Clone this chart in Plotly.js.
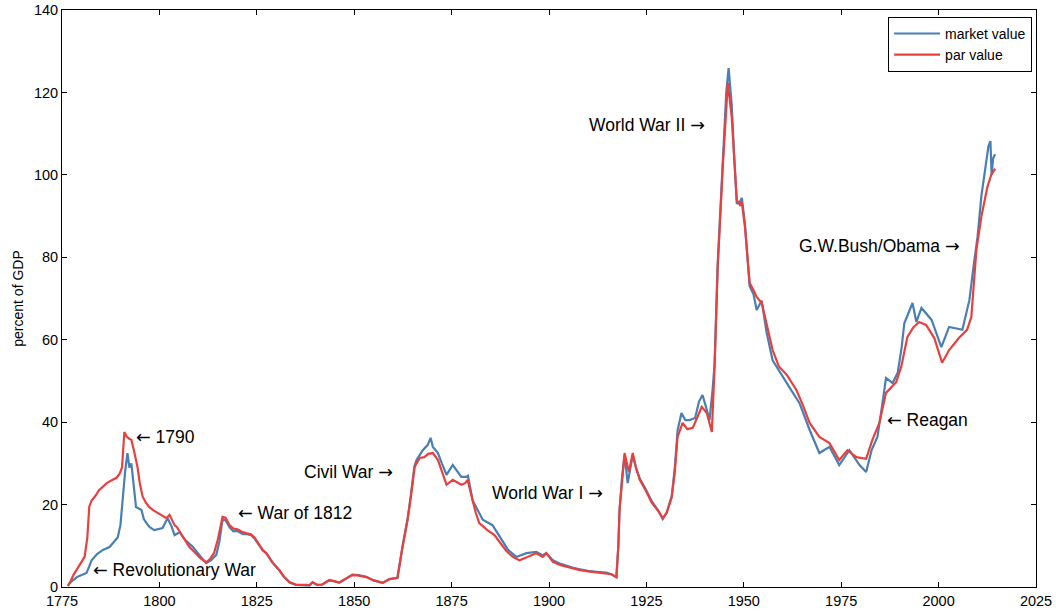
<!DOCTYPE html>
<html>
<head>
<meta charset="utf-8">
<script src="https://cdn.plot.ly/plotly-3.0.1.min.js"></script>
<style>html,body{margin:0;padding:0;background:#fff;}#chart{width:1056px;height:611px;}</style>
</head>
<body>
<div id="chart"></div>
<script>
// Par value (percent of GDP)
const parYears = [1776.5,1777,1778,1779,1780,1780.8,1781.5,1782,1782.6,1783.5,1784.5,1785.4,1786.5,1788,1789,1789.8,1790.4,1791,1791.6,1792.2,1792.8,1793.5,1794.4,1795,1795.7,1796.5,1797.3,1798.3,1799.5,1800.5,1801.8,1802.6,1803.2,1803.9,1804.5,1805.5,1806.5,1807.7,1809,1810.5,1812,1813,1814,1815,1816.2,1817,1818,1819,1820,1821.4,1822.5,1823.5,1824.4,1825.5,1826.5,1827.5,1829,1830.8,1832,1833.4,1835,1837.7,1838.5,1839.3,1840.5,1841.8,1843.6,1844.5,1846.2,1847.5,1849.5,1851,1853.1,1855,1857.3,1859,1861.1,1862.4,1863.7,1864.5,1865.5,1866.8,1868,1869,1870.2,1871.5,1872.5,1873.7,1875.3,1876.5,1877.5,1878.5,1879.1,1880.4,1881.2,1882.1,1884.2,1886,1887.8,1889,1890.7,1892.4,1894.5,1896.7,1898.4,1899.3,1901,1903,1904.5,1906,1907.9,1910,1912.2,1914.7,1916,1917.3,1917.8,1918.1,1918.7,1919.4,1920,1920.5,1921.5,1922.3,1923.3,1924.8,1926.4,1928,1929.2,1930.2,1931.5,1932.3,1933,1934.3,1935.5,1936.9,1938,1939.2,1940.5,1941.8,1942.5,1943.3,1944.6,1945.9,1946.9,1947.5,1948.2,1949,1949.5,1950.3,1951.5,1952.5,1953.3,1954.6,1955.8,1957.4,1959,1961,1963.5,1965,1966.9,1969.4,1972,1974.5,1976.6,1978.9,1981.4,1983,1984.8,1986.5,1989.1,1990.4,1992,1993.5,1995,1996.8,1998.9,2000.9,2002.7,2005.2,2007.3,2008.4,2009.7,2011,2012.5,2013.5,2014.5];
const parValue = [0.3,1,3,4.5,6,7.3,12,19.5,21,22,23.5,24.3,25.2,26,26.5,27.5,29,37.6,36.5,36,35.7,33,29,25,21.9,20.5,19.5,18.7,18,17.5,16.7,17.5,16.5,15,14.5,13,11.5,9.7,8.5,7,6,6.8,8.2,11.5,17,16.8,15,14.2,14,13.3,13,12.8,12,10.5,9,8.2,6,4.1,2.5,1.2,0.6,0.5,0.4,1.2,0.5,0.6,1.7,1.5,1.1,1.8,2.9,2.8,2.4,1.6,1,1.9,2.2,9.7,16.3,21.5,29.1,31.3,31.5,32.3,32.5,30.8,28,24.8,26,25.3,24.8,25.2,26,21,18,15.5,13.8,12.6,10.2,8.8,7.3,6.5,7.3,8.2,7.3,8.2,6.1,5.3,4.9,4.5,4.1,3.8,3.6,3.4,3.1,2.4,10,18.7,26,32.5,30,27.9,32.5,29,26,23.5,20.4,18.5,16.7,18,21.8,28,36.4,39.8,38.3,38.6,41,43.7,42.2,37.6,53.4,77.6,101.9,122.3,114,104,93.9,92.7,93.4,87.4,73.8,72,70.4,68.9,64,57.5,53.5,51.5,47.8,44.5,39.8,36.4,34.9,30.8,33.2,31.5,31.1,35.7,39.8,47.1,49.7,53.4,60.7,63,64.3,63.6,60.4,54.4,57.5,60.4,62.4,65.5,81.8,90,97,100,101.5];

// Market value (percent of GDP)
const mktYears = [1776.5,1777,1779,1781.3,1782,1782.6,1784,1785.5,1787.2,1788.5,1789.3,1790,1790.5,1791.2,1791.8,1792.3,1792.8,1793.4,1794,1795.4,1796,1796.7,1797.5,1798.7,1799.7,1800.8,1802.1,1803,1803.9,1805.2,1806.5,1808.6,1810.5,1812,1813.3,1814.6,1815.4,1816.2,1817,1818,1819,1820,1821.4,1822.5,1823.5,1824.4,1825.5,1826.5,1827.5,1829,1830.8,1832,1833.4,1835,1837.7,1838.5,1839.3,1840.5,1841.8,1843.6,1844.5,1846.2,1847.5,1849.5,1851,1853.1,1855,1857.3,1859,1861.1,1862.4,1863.7,1864.5,1865.5,1866,1867.6,1868.9,1869.6,1870.2,1871.5,1872.5,1873.7,1875.3,1876.5,1877.5,1878.8,1879.2,1880.4,1883,1885.5,1887.8,1889.5,1891.6,1894.2,1896.7,1898.4,1899.3,1901,1903,1904.5,1906,1907.9,1910,1912.2,1914.7,1916,1917.3,1917.8,1918.1,1918.7,1919.4,1920.2,1921.5,1922.3,1923.3,1924.8,1926.4,1928,1929.2,1930.2,1931.5,1932.3,1933,1934,1935,1936.1,1937.5,1938.5,1939.4,1940.2,1941.2,1942,1942.5,1943.3,1944.6,1945.5,1946.1,1946.9,1947.5,1948.2,1949,1949.5,1950.3,1951.5,1952.5,1953.3,1954.6,1955.8,1957.4,1959.7,1962,1964.3,1966.9,1969.4,1972,1974.5,1977.1,1979.7,1981.4,1982.8,1984.3,1985.5,1986.5,1988.2,1989.5,1990.5,1991.2,1993.3,1994.3,1995.6,1998.2,2000.7,2002.7,2006.1,2007.9,2009,2010,2011,2012,2012.8,2013.3,2013.6,2014,2014.5];
const mktValue = [0.3,1,2.5,3.4,5,6.5,8,9,9.7,11,12,15,21,28,32.5,29,30,24,19.4,18.7,16.5,15.5,14.5,13.8,14,14.3,16.7,15,12.6,13.3,11.5,9.7,7.5,5.8,6.5,7.8,11,16.3,16.2,14.5,13.5,13.6,12.8,12.8,12.6,11.8,10.3,8.9,8.1,5.9,4,2.4,1.1,0.5,0.4,0.4,1.1,0.5,0.6,1.6,1.5,1.1,1.8,3,2.9,2.5,1.6,1,1.9,2.3,9.8,16.5,22,29.5,30.8,33.2,34.5,36.2,34,32.5,30,27.2,29.6,28,26.7,26.7,27,21,16.3,15,11.4,9,7.3,8.2,8.5,7.7,8.2,6.5,5.6,5.1,4.7,4.3,3.9,3.7,3.5,3.1,2.4,10,18.5,26,32,25.2,32,29,26.3,23.8,20.8,18.6,16.5,18,22,29,38,42.2,40.5,40.5,41,45,46.6,44,40.5,48,54,78.5,104,120,125.9,117,105,93,93.5,94.4,88,73,71,67.2,69.5,62,55,51.4,48,44.6,38.1,32.5,34,29.6,33.2,29.6,27.9,33.2,36.4,44,50.7,49.5,52,58,64,68.9,64.3,67.7,64.8,58.2,63.1,62.4,69.6,78,85,95,102,107,108.2,100,104,105];

const ARW_R = '<span style="font-family:DejaVu Sans">\u2192</span>';
const ARW_L = '<span style="font-family:DejaVu Sans">\u2190</span>';
const labels = [
  {text: ARW_L + ' Revolutionary War', x: 1782.4, y: 4.1, anchor: 'left'},
  {text: ARW_L + ' 1790', x: 1793.4, y: 36.4, anchor: 'left'},
  {text: ARW_L + ' War of 1812', x: 1819.6, y: 18, anchor: 'left'},
  {text: 'Civil War ' + ARW_R, x: 1860.5, y: 27.9, anchor: 'right'},
  {text: 'World War I ' + ARW_R, x: 1914.4, y: 22.8, anchor: 'right'},
  {text: 'World War II ' + ARW_R, x: 1940.6, y: 112.1, anchor: 'right'},
  {text: 'G.W.Bush/Obama ' + ARW_R, x: 2006, y: 82.7, anchor: 'right'},
  {text: ARW_L + ' Reagan', x: 1986.2, y: 40.5, anchor: 'left'}
];

const FONT = 'Liberation Sans, Arial, sans-serif';

const traces = [
  {x: mktYears, y: mktValue, type: 'scatter', mode: 'lines', name: 'market value',
   line: {color: '#4a7fb3', width: 2.2}},
  {x: parYears, y: parValue, type: 'scatter', mode: 'lines', name: 'par value',
   line: {color: '#e8403f', width: 2.2}}
];

const axisCommon = {
  showline: true, linecolor: '#000', linewidth: 1, mirror: 'ticks',
  ticks: 'inside', ticklen: 5, tickcolor: '#000', showgrid: false, zeroline: false,
  tickfont: {family: FONT, size: 14.5, color: '#000'}
};

const layout = {
  width: 1056, height: 611,
  margin: {l: 62, r: 20, t: 10, b: 24},
  paper_bgcolor: '#fff', plot_bgcolor: '#fff',
  showlegend: true,
  legend: {x: 0.996, y: 0.988, xanchor: 'right', yanchor: 'top',
    bordercolor: '#000', borderwidth: 1, bgcolor: '#fff', itemwidth: 46,
    font: {family: FONT, size: 14, color: '#000'}, tracegroupgap: 0},
  xaxis: Object.assign({}, axisCommon, {range: [1775, 2025], tick0: 1775, dtick: 25, ticklabelstandoff: 1}),
  yaxis: Object.assign({}, axisCommon, {range: [0, 140], dtick: 20,
    title: {text: 'percent of GDP', font: {family: FONT, size: 14, color: '#000'}, standoff: 6}}),
  annotations: labels.map(a => ({
    text: a.text, x: a.x, y: a.y, xref: 'x', yref: 'y', showarrow: false,
    xanchor: a.anchor, yanchor: 'middle',
    font: {family: FONT, size: 17.5, color: '#000'}
  }))
};

Plotly.newPlot('chart', traces, layout, {displayModeBar: false, staticPlot: true}).then(function () {
  document.querySelectorAll('.legend .legendlines path').forEach(function (p) {
    p.setAttribute('d', 'M5,0h46');
  });
});
</script>
</body>
</html>
